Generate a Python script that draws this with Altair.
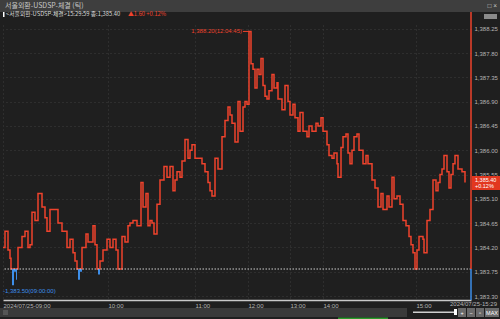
import altair as alt
import pandas as pd

# ---- data -------------------------------------------------------------
tick_seq = [0, 2, 5, 7, 8, 9, 11, 13, 14, 15, 19, 22, 25, 27, 29, 32, 35, 39, 42, 44,
            47, 52, 55, 59, 64, 67, 70, 72, 74, 75, 77, 79, 83, 85, 90, 92, 94, 95, 97, 100,
            104, 107, 110, 113, 115, 119, 122, 125, 127, 130, 134, 138, 140, 143, 145, 147, 149, 151, 154, 157,
            161, 164, 167, 170, 172, 174, 177, 179, 182, 185, 187, 189, 192, 195, 199, 202, 205, 207, 209, 212,
            215, 219, 222, 225, 227, 229, 232, 235, 237, 240, 242, 244, 246, 248, 250, 252, 254, 256, 258, 260,
            262, 264, 266, 269, 271, 274, 275, 279, 282, 285, 287, 290, 292, 295, 297, 300, 304, 306, 309, 313,
            315, 318, 320, 324, 326, 329, 331, 334, 335, 338, 340, 343, 345, 347, 349, 351, 354, 356, 360, 363,
            365, 369, 372, 375, 378, 380, 384, 386, 389, 391, 394, 397, 400, 403, 406, 408, 410, 412, 414, 416,
            418, 420, 421, 424, 427, 430, 433, 435, 437, 439, 441, 444, 446, 448, 450, 452, 455, 459, 462]
tick_price = [1384.20, 1384.50, 1384.15, 1384.00, 1383.80, 1383.50, 1383.75, 1383.60, 1383.80, 1384.20,
              1384.40, 1384.50, 1384.20, 1384.25, 1384.85, 1384.70, 1385.20, 1384.95, 1384.75, 1384.50,
              1384.90, 1384.90, 1384.65, 1384.50, 1384.20, 1384.35, 1384.10, 1383.95, 1383.80, 1383.60,
              1383.75, 1384.20, 1384.45, 1384.30, 1384.60, 1384.25, 1383.80, 1383.70, 1383.95, 1384.15,
              1384.35, 1384.20, 1384.35, 1384.15, 1383.80, 1384.40, 1384.30, 1384.60, 1384.65, 1384.70,
              1384.60, 1385.40, 1384.95, 1385.20, 1384.60, 1384.70, 1384.65, 1384.45, 1385.00, 1385.45,
              1385.70, 1385.50, 1385.70, 1385.25, 1385.45, 1385.60, 1385.50, 1385.80, 1386.20, 1385.85,
              1386.00, 1386.10, 1385.85, 1385.85, 1385.75, 1385.60, 1385.40, 1385.25, 1385.15, 1385.85,
              1385.65, 1386.25, 1386.55, 1386.80, 1386.65, 1386.50, 1386.15, 1386.90, 1386.35, 1386.80,
              1386.90, 1386.85, 1388.20, 1387.60, 1387.50, 1387.15, 1387.50, 1387.40, 1387.70, 1387.20,
              1387.00, 1386.95, 1387.10, 1387.40, 1387.15, 1387.25, 1386.95, 1386.75, 1387.20, 1386.90,
              1386.65, 1386.85, 1386.60, 1386.35, 1386.70, 1386.35, 1386.25, 1386.45, 1386.35, 1386.50,
              1386.45, 1386.60, 1386.35, 1386.10, 1385.90, 1385.85, 1385.95, 1385.75, 1385.50, 1386.05,
              1386.25, 1386.30, 1385.95, 1385.75, 1386.00, 1386.25, 1386.30, 1386.00, 1385.75, 1385.90,
              1385.75, 1385.45, 1385.30, 1384.95, 1385.20, 1384.90, 1385.15, 1384.95, 1385.50, 1385.10,
              1385.15, 1385.00, 1384.70, 1384.60, 1384.40, 1384.25, 1384.10, 1383.80, 1384.15, 1384.40,
              1384.40, 1384.35, 1384.10, 1384.70, 1384.90, 1385.45, 1385.25, 1385.40, 1385.55, 1385.65,
              1385.90, 1385.60, 1385.30, 1385.55, 1385.75, 1385.90, 1385.65, 1385.60, 1385.40]
assert len(tick_seq) == len(tick_price)

prev_close = 1383.80
last_price = 1385.40
high_price, high_seq = 1388.20, 246
low_price, low_seq = 1383.50, 0

time_tick_seq = [0, 105, 192, 245, 287, 320, 413]
time_tick_labels = ["2024/07/25-09:00", "10:00", "11:00", "12:00", "13:00", "14:00", "15:00"]
price_ticks = [1383.30, 1383.75, 1384.20, 1384.65, 1385.10, 1385.55,
               1386.00, 1386.45, 1386.90, 1387.35, 1387.80, 1388.25]

# ---- styling ----------------------------------------------------------
BG = "#1f1f1f"
RED = "#ee432d"
BLUE = "#3d8ee8"
GRID = "#3e3e3e"
TXT = "#b4b4b4"
FONT = "Liberation Sans"
KFONT = "Noto Sans CJK KR"
W, H = 468, 275

df = pd.DataFrame({"seq": tick_seq, "price": tick_price})
df["up"] = df["price"].clip(lower=prev_close)
df["next_seq"] = df["seq"].shift(-1).fillna(df["seq"].iloc[-1] + 1)
dips = df[df["price"] < prev_close]

xscale = alt.Scale(domain=[0, 468], nice=False, zero=False)
yscale = alt.Scale(domain=[1383.226, 1388.319], nice=False, zero=False)

label_expr = ""
for s, l in zip(time_tick_seq, time_tick_labels):
    label_expr += f"datum.value == {s} ? '{l}' : "
label_expr += "''"

x_axis = alt.Axis(values=time_tick_seq, labelExpr=label_expr, grid=True, gridColor=GRID,
                  gridDash=[1, 3], ticks=False, domain=True, domainColor="#c8c8c8",
                  domainWidth=1.5, labelAlign="left", labelColor=TXT, labelFontSize=6,
                  labelFont=FONT, labelPadding=2, title=None, labelOverlap=False)
y_axis = alt.Axis(values=price_ticks, orient="right", grid=True, gridColor=GRID,
                  gridDash=[1, 3], ticks=False, domain=False, labelColor=TXT,
                  labelFontSize=6, labelFont=FONT, labelPadding=3, labelOverlap=False,
                  labelExpr="format(datum.value, ',.2f')", title=None)

base = alt.Chart(df)

line = base.mark_line(interpolate="step-after", color=RED, strokeWidth=1.5).encode(
    x=alt.X("seq:Q", scale=xscale, axis=x_axis),
    y=alt.Y("up:Q", scale=yscale, axis=y_axis),
)

dip_bars = alt.Chart(dips).mark_rect(color=BLUE).encode(
    x=alt.X("seq:Q", axis=x_axis), x2="next_seq:Q",
    y=alt.Y("price:Q", axis=y_axis), y2=alt.datum(prev_close)
)

prev_rule = alt.Chart(pd.DataFrame({"p": [prev_close]})).mark_rule(
    color="#cfcfcf", strokeDash=[1.5, 1.5], strokeWidth=1).encode(
    y=alt.Y("p:Q", axis=y_axis))

edge_red = alt.Chart(pd.DataFrame({"p": [prev_close]})).mark_rule(
    color=RED, strokeWidth=1.5).encode(x=alt.value(W), y=alt.Y("p:Q", axis=y_axis),
                                       y2=alt.value(-16))
edge_blue = alt.Chart(pd.DataFrame({"p": [prev_close]})).mark_rule(
    color=BLUE, strokeWidth=1.5).encode(x=alt.value(W), y=alt.Y("p:Q", axis=y_axis),
                                        y2=alt.value(H))

ann = pd.DataFrame({
    "hs": [high_seq], "hp": [high_price],
    "ht": [f"{high_price:,.2f}(12:04:45)"],
    "ls": [low_seq], "lp": [low_price],
    "lt": [f"-{low_price:,.2f}(09:00:00)"],
})
high_txt = alt.Chart(ann).mark_text(color=RED, fontSize=6, font=FONT, align="right",
                                    baseline="middle", dx=-7).encode(
    x=alt.X("hs:Q", axis=x_axis), y=alt.Y("hp:Q", axis=y_axis), text="ht:N")
high_tick = alt.Chart(ann).mark_rule(color=RED, strokeWidth=1).encode(
    x=alt.X("hs:Q", axis=x_axis), y=alt.Y("hp:Q", axis=y_axis), x2=alt.value(240))
low_txt = alt.Chart(ann).mark_text(color=BLUE, fontSize=6, font=FONT, align="left",
                                   baseline="middle", dy=6).encode(
    x=alt.X("ls:Q", axis=x_axis), y=alt.Y("lp:Q", axis=y_axis), text="lt:N")


def rect(x1, x2, y1, y2, color, **kw):
    return alt.Chart(pd.DataFrame({"d": [0]})).mark_rect(color=color, **kw).encode(
        x=alt.value(x1), x2=alt.value(x2), y=alt.value(y1), y2=alt.value(y2))


def label(text, x, y, color, size=6, font=FONT, align="left", **kw):
    return alt.Chart(pd.DataFrame({"t": [text]})).mark_text(
        color=color, fontSize=size, font=font, align=align, baseline="middle", **kw).encode(
        x=alt.value(x), y=alt.value(y), text="t:N")


# last price box
price_box = rect(W + 1, W + 29, 151, 165, "#e2371f")
price_box_t1 = label(f"{last_price:,.2f}", W + 4, 155, "#ffffff", size=5.5)
price_box_t2 = label("+0.12%", W + 4, 161, "#ffffff", size=5.5)

# header
header_bar = rect(-3, 497, -25, -13, "#3e3e3e")
header_title = label("서울외환-USDSP-체결 (틱)", 2, -19, "#c8c8c8", size=7, font=KFONT)
header_icons = label("□ ×", 494, -19, "#c8c8c8", size=6.5, align="right")
info_mark = rect(0, 1.5, -13, -8, "#ffffff")
info_text = label(f"<서울외환-USDSP-체결>15:29:59 종:{last_price:,.2f}", 3, -11, "#d8d8d8",
                  size=5.8, font=KFONT)
info_change = label("▲1.60  +0.12%", 125, -11, RED, size=5.8, font=KFONT)
top_icons = rect(481, 494, -11, -6, "#8a8a8a")

# end time label (sits under the price axis, as in the reference)
end_label = label("2024/07/25-15:29", 494, 279, TXT, align="right")

# scroll bar area
scroll_bg = rect(-3, 404, 283, 292, "#3a3a3a")
scroll_box = rect(0, 5, 285, 290, "#555555")
scroll_track = rect(410, 452, 286.5, 288, "#cfcfcf")
scroll_knob = rect(451, 454, 284, 290, "#ffffff")
btns = []
for bx, bt in zip([455, 464, 473, 482], ["+", "−", "▫", "MAX"]):
    bw = 8 if bt != "MAX" else 14
    btns.append(rect(bx, bx + bw, 283, 292, "#6a6a6a"))
    btns.append(label(bt, bx + bw / 2, 287.5, "#ffffff", size=5.5, align="center"))
green_bar = rect(335, 385, 292.5, 294, "#2c9a2c")

chart = alt.layer(
    line, dip_bars, prev_rule, edge_red, edge_blue, high_tick, high_txt, low_txt,
    price_box, price_box_t1, price_box_t2,
    header_bar, header_title, header_icons, info_mark, info_text, info_change, top_icons,
    end_label, scroll_bg, scroll_box, scroll_track, scroll_knob, *btns, green_bar,
).properties(
    width=W, height=H, background=BG,
    autosize=alt.AutoSizeParams(type="none"),
    padding={"left": 3, "top": 25, "right": 29, "bottom": 19},
).configure_view(stroke=None).configure_axis(labelOverlap=False)

chart.save("out.html", embed_options={"renderer": "svg", "actions": False})
